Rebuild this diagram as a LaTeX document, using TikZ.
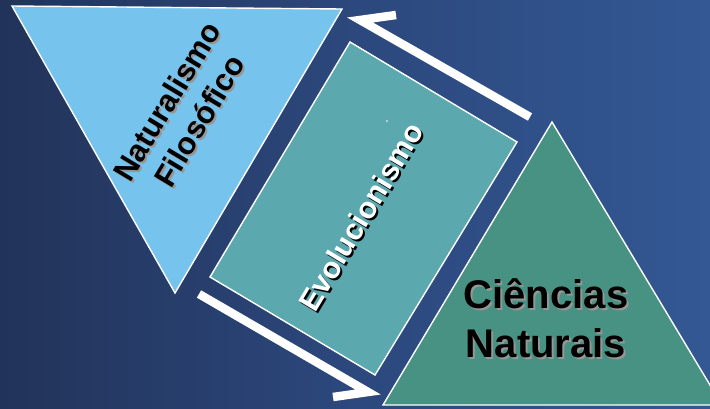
\documentclass[tikz,border=0pt]{standalone}
\usepackage{fontspec}
\setmainfont{Liberation Sans}
\definecolor{bgdark}{RGB}{34,51,89}
\definecolor{bglight}{RGB}{51,88,148}
\definecolor{bgmid}{RGB}{44,72,125}
\definecolor{natblue}{RGB}{118,196,238}
\definecolor{evoteal}{RGB}{91,168,174}
\definecolor{cigreen}{RGB}{71,146,130}
\definecolor{shadowgray}{RGB}{150,150,150}
\begin{document}
\begin{tikzpicture}[x=1pt,y=-1pt,
  shapeborder/.style={draw=white,line width=1.4pt,line join=miter},
  arrowline/.style={draw=white,line width=8.5pt,line join=miter,miter limit=10,line cap=butt},
  lbl/.style={font=\bfseries,align=center,inner sep=0pt},
]
\useasboundingbox (0,0) rectangle (710,408);
\shade[left color=bgdark,right color=bglight,middle color=bgmid] (0,0) rectangle (710,408);

% shapes
\coordinate (t1a) at (12,6);
\coordinate (t1b) at (342,9);
\coordinate (t1c) at (175,293);
\coordinate (r1) at (350,42);
\coordinate (r2) at (517,142);
\coordinate (r3) at (375,375);
\coordinate (r4) at (210,277);
\coordinate (t2a) at (552,122);
\coordinate (t2b) at (383,405);
\coordinate (t2c) at (722,405);

\path[shapeborder,fill=natblue] (t1a) -- (t1b) -- (t1c) -- cycle;
\path[shapeborder,fill=evoteal] (r1) -- (r2) -- (r3) -- (r4) -- cycle;
\path[shapeborder,fill=cigreen] (t2a) -- (t2b) -- (t2c) -- cycle;
\fill[white] (387,121) circle (0.8);

% arrows
\coordinate (a1s) at (530,117);
\coordinate (a1t) at (360,20);
\coordinate (a1b) at (396,15);
\coordinate (a2s) at (199,294);
\coordinate (a2t) at (368,392);
\coordinate (a2b) at (333,397);
\draw[arrowline] (a1s) -- (a1t) -- (a1b);
\draw[arrowline] (a2s) -- (a2t) -- (a2b);

% labels
\node[lbl,rotate=59,text=shadowgray,font=\fontsize{31}{38}\selectfont\bfseries] (natsh) at (185,113) {Naturalismo\\Filosófico};
\node[lbl,rotate=59,text=black,font=\fontsize{31}{38}\selectfont\bfseries] (nat) at (183,111) {Naturalismo\\Filosófico};

\node[lbl,rotate=59,text=black,font=\fontsize{30}{36}\selectfont\bfseries] (evosh) at (363,219) {Evolucionismo};
\node[lbl,rotate=59,text=white,font=\fontsize{30}{36}\selectfont\bfseries] (evo) at (361,217) {Evolucionismo};

\node[lbl,text=shadowgray,font=\fontsize{40}{49}\selectfont\bfseries] (cish) at (548,320) {Ciências\\Naturais};
\node[lbl,text=black,font=\fontsize{40}{49}\selectfont\bfseries] (ci) at (546,318) {Ciências\\Naturais};
\end{tikzpicture}
\end{document}
